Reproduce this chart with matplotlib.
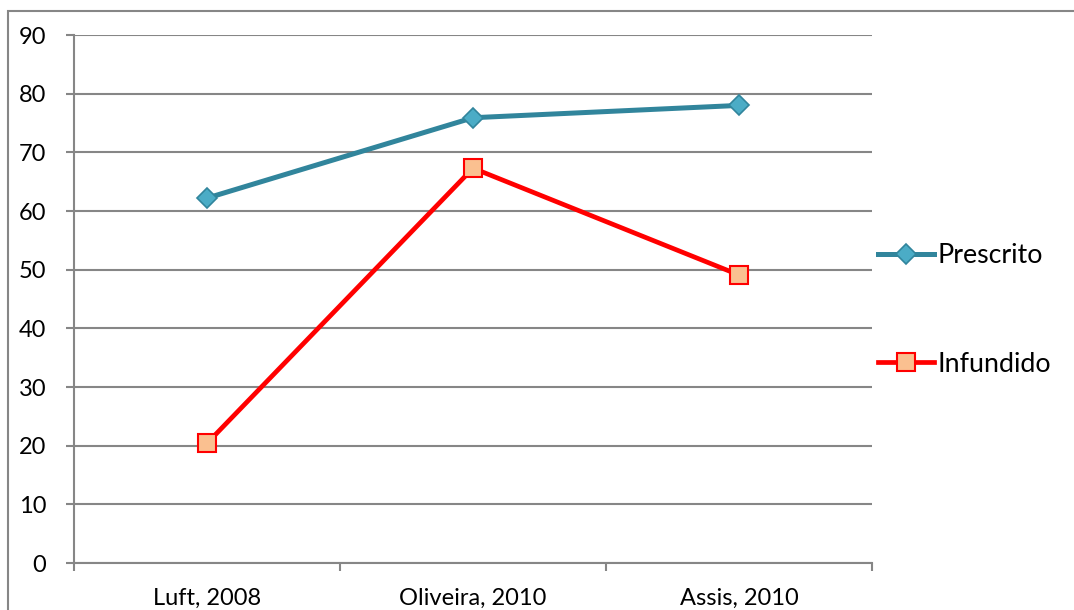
import matplotlib
matplotlib.use("Agg")
import matplotlib.pyplot as plt
from matplotlib.patches import Rectangle
from matplotlib.lines import Line2D

categories = ["Luft, 2008", "Oliveira, 2010", "Assis, 2010"]
prescrito = [62.2, 75.9, 78.0]
infundido = [20.4, 67.3, 49.1]
yticks = [0, 10, 20, 30, 40, 50, 60, 70, 80, 90]

plt.rcParams['font.family'] = ['Lato', 'DejaVu Sans']
FS = 17
LFS = 19.3
GRID = '#868686'

fig = plt.figure(figsize=(10.74, 6.10), dpi=100)
fig.patch.set_facecolor('white')
ax = fig.add_axes([74/1074, 1-563/610, (872-74)/1074, (563-35)/610])

x = list(range(len(categories)))
l1, = ax.plot(x, prescrito, color='#31859C', lw=3.6, marker='D', markersize=10,
              markerfacecolor='#4BACC6', markeredgecolor='#31859C', markeredgewidth=1.2,
              label='Prescrito', zorder=4)
l2, = ax.plot(x, infundido, color='#FF0000', lw=3.4, marker='s', markersize=13,
              markerfacecolor='#FAC090', markeredgecolor='#FF0000', markeredgewidth=1.5,
              label='Infundido', zorder=5)

ax.set_xlim(-0.5, len(categories) - 0.5)
ax.set_ylim(0, 90)
ax.set_yticks(yticks)
ax.set_yticklabels([str(v) for v in yticks], fontsize=FS, color='black')
ax.yaxis.grid(True, color=GRID, lw=1.5)
ax.set_axisbelow(True)

ax.set_xticks(x)
ax.set_xticklabels(categories, fontsize=FS)
ax.tick_params(axis='x', which='major', length=0, pad=18)
ax.set_xticks([i - 0.5 for i in range(len(categories) + 1)], minor=True)
ax.tick_params(axis='x', which='minor', length=6, width=1.5, color=GRID, direction='out')
ax.tick_params(axis='y', length=6, width=1.5, color=GRID, pad=14)

for s in ['top', 'right']:
    ax.spines[s].set_visible(False)
for s in ['left', 'bottom']:
    ax.spines[s].set_color(GRID)
    ax.spines[s].set_linewidth(1.5)

fig.legend(handles=[l1, l2], loc='center left', bbox_to_anchor=(867/1074, 1-310/610),
           frameon=False, fontsize=LFS, handlelength=2.1, handletextpad=0.12,
           labelspacing=3.12, borderaxespad=0)

fig.add_artist(Rectangle((8/1074, -0.1), 2, (610-11)/610 + 0.1, transform=fig.transFigure,
                         fill=False, edgecolor=GRID, lw=1.5))

fig.savefig('out.png', dpi=100)
